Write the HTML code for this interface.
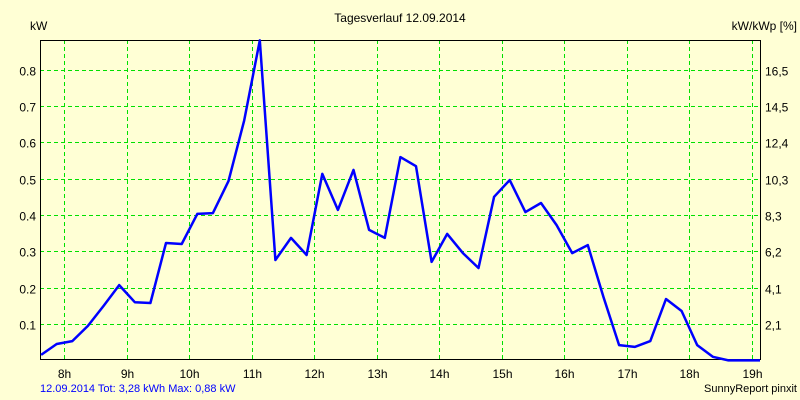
<!DOCTYPE html>
<html><head><meta charset="utf-8"><style>
html,body{margin:0;padding:0;background:#ffffd5}
svg{display:block;font-family:"Liberation Sans",sans-serif;font-size:12px}
</style></head><body>
<svg id="chart" width="800" height="400" viewBox="0 0 800 400">
<rect x="0" y="0" width="800" height="400" fill="#ffffd5"/>
<text x="400" y="22" text-anchor="middle">Tagesverlauf 12.09.2014</text>
<text x="30" y="30">kW</text>
<text x="797" y="30" text-anchor="end">kW/kWp [%]</text>
<g id="grid"></g><g id="axes"></g><g id="series"></g>
<text x="40" y="392" fill="#0000ff" font-size="11">12.09.2014 Tot: 3,28 kWh Max: 0,88 kW</text>
<text x="797" y="392" text-anchor="end" font-size="11">SunnyReport pinxit</text>
</svg>
<script>
const hourTicks=[8,9,10,11,12,13,14,15,16,17,18,19];
const leftTicks=[0.1,0.2,0.3,0.4,0.5,0.6,0.7,0.8];
const leftTickLabels=["0.1","0.2","0.3","0.4","0.5","0.6","0.7","0.8"];
const rightTickLabels=["2,1","4,1","6,2","8,3","10,3","12,4","14,5","16,5"];
const values=[0.015,0.045,0.053,0.095,0.15,0.207,0.16,0.158,0.323,0.32,0.403,0.405,0.493,0.66,0.88,0.276,0.337,0.29,0.513,0.414,0.524,0.359,0.337,0.559,0.534,0.271,0.348,0.295,0.254,0.45,0.496,0.408,0.433,0.372,0.295,0.317,0.174,0.042,0.037,0.053,0.169,0.136,0.042,0.01,0,0,0];
const L=40,R=760,T=40,B=359;
const H0=7.608,H1=19.13;
function xs(h){return L+(h-H0)/(H1-H0)*(R-L);}
function ys(v){return 360.4-v*363.6;}
const NS="http://www.w3.org/2000/svg";
function mk(tag,attrs,parent){const e=document.createElementNS(NS,tag);for(const k in attrs)e.setAttribute(k,attrs[k]);parent.appendChild(e);return e;}
const grid=document.getElementById('grid'),axes=document.getElementById('axes'),series=document.getElementById('series');
hourTicks.forEach(h=>{
  const x=Math.round(xs(h))+0.5;
  const g=mk('line',{x1:x,x2:x,y1:T,y2:B,stroke:'#00e000','stroke-dasharray':'4,3'},grid);
  
  
  const t=mk('text',{x:x,y:378,'text-anchor':'middle'},axes);t.textContent=h+'h';
  
  
});
leftTicks.forEach((v,i)=>{
  const y=Math.round(ys(v))+0.5;
  const g=mk('line',{x1:L,x2:R,y1:y,y2:y,stroke:'#00e000','stroke-dasharray':'4,3'},grid);
  
  
  const t=mk('text',{x:36,y:y+5,'text-anchor':'end'},axes);t.textContent=leftTickLabels[i];
  
  
  const t2=mk('text',{x:765,y:y+5},axes);t2.textContent=rightTickLabels[i];
  
  
});
const fr=mk('rect',{x:L+0.5,y:T+0.5,width:R-L,height:B-T,fill:'none',stroke:'#000'},axes);


const pts=values.map((v,i)=>{const h=i<45?7.625+i*0.25:(i===45?18.875:19.13);return xs(h).toFixed(1)+','+ys(v).toFixed(1);});
const pl=mk('polyline',{points:pts.join(' '),fill:'none',stroke:'#0000ff','stroke-width':2.5,'stroke-linejoin':'round'},series);


</script>
</body></html>
